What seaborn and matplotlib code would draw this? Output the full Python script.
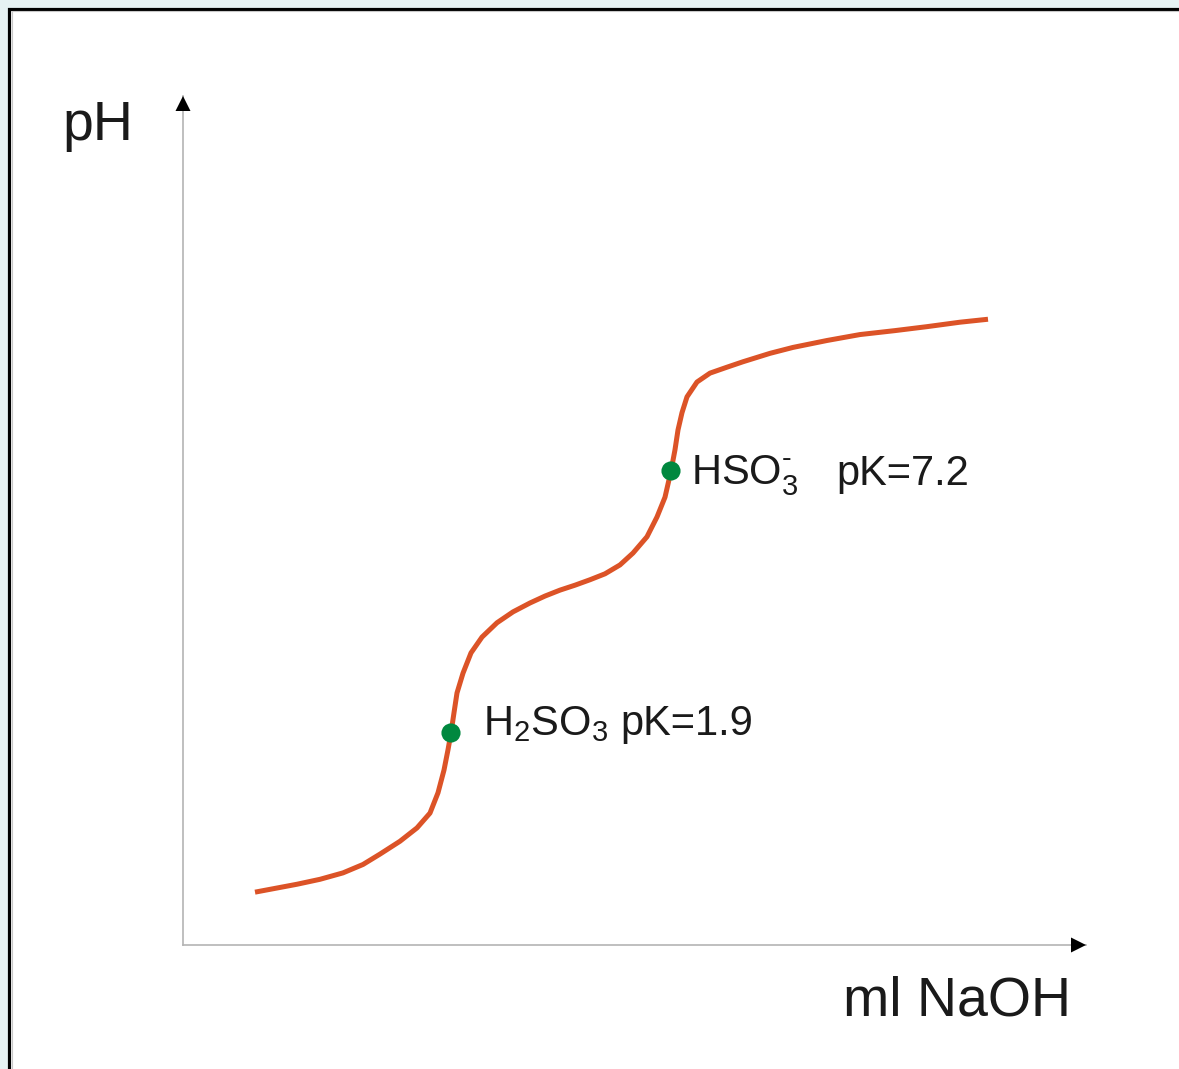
import matplotlib
matplotlib.use("Agg")
import matplotlib.pyplot as plt
import matplotlib.patches as mpatches
import pandas as pd
import seaborn as sns

# Titration curve of sulfurous acid with NaOH (volume in ml, pH)
volume_ml = [7.2, 9.3, 11.4, 13.7, 16.0, 18.0, 19.7, 21.7, 23.4, 24.7, 25.5,
             26.1, 26.5, 26.8, 27.1, 27.4, 28.0, 28.8, 29.9, 31.4, 33.0, 34.7,
             36.2, 37.7, 39.2, 40.7, 42.2, 43.7, 45.0, 46.4, 47.4, 48.2, 48.8,
             49.2, 49.5, 49.9, 50.4, 51.4, 52.7, 54.4, 56.0, 58.7, 61.0, 64.4,
             67.7, 71.2, 74.4, 77.7, 80.5]
ph_values = [-1.32, -1.24, -1.16, -1.06, -0.93, -0.76, -0.55, -0.29, -0.02, 0.28, 0.69,
             1.15, 1.56, 1.90, 2.31, 2.71, 3.11, 3.52, 3.84, 4.13, 4.35, 4.53,
             4.67, 4.79, 4.89, 5.00, 5.12, 5.30, 5.54, 5.87, 6.27, 6.67, 7.20,
             7.63, 8.03, 8.38, 8.70, 9.00, 9.18, 9.30, 9.41, 9.58, 9.70, 9.84,
             9.96, 10.04, 10.12, 10.21, 10.27]

# Half-equivalence points
pk_volume = [26.8, 48.8]
pk_values = [1.9, 7.2]
pk_species = [r"$\mathregular{H_2SO_3}$", "$\\mathregular{HSO_3^{\u2010}}$"]

x_label = "ml NaOH"
y_label = "pH"

sns.set_theme(style="white")
plt.rcParams["font.family"] = ["Liberation Sans", "DejaVu Sans"]
plt.rcParams["mathtext.fontset"] = "custom"
plt.rcParams["mathtext.rm"] = "Liberation Sans"
plt.rcParams["mathtext.it"] = "Liberation Sans"

W, H = 1179, 1069
fig = plt.figure(figsize=(W / 100, H / 100), dpi=100)
fig.patch.set_facecolor("#e6f2f3")


def fx(px):
    return px / W


def fy(py):
    return 1 - py / H


# white panel with black frame
panel = mpatches.Rectangle((fx(9.5), -0.05), 1.1, fy(8.5) + 0.05,
                           transform=fig.transFigure, facecolor="white",
                           edgecolor="black", linewidth=2.3, zorder=-10)
fig.patches.append(panel)
inner = mpatches.Rectangle((fx(11.5), -0.05), 1.1, fy(10.5) + 0.05,
                           transform=fig.transFigure, facecolor="none",
                           edgecolor="#c8c8c8", linewidth=0.8, zorder=-9)
fig.patches.append(inner)

x0, x1, y0, y1 = 183, 1086, 945, 96
ax = fig.add_axes([fx(x0), fy(y0), (x1 - x0) / W, (y0 - y1) / H])
ax.set_facecolor("none")
ax.set_zorder(5)

curve = pd.DataFrame({"ml": volume_ml, "pH": ph_values})
sns.lineplot(data=curve, x="ml", y="pH", sort=False, color="#dc5327",
             linewidth=3.6, ax=ax, zorder=3, solid_joinstyle="round",
             solid_capstyle="butt")
points = pd.DataFrame({"ml": pk_volume, "pH": pk_values})
sns.scatterplot(data=points, x="ml", y="pH", color="#00883f", s=190,
                edgecolor="none", ax=ax, zorder=4)
ax.set_xlim(0, 90.3)
ax.set_ylim(-2.389, 14.786)

# labels next to the points
label_size = 30
ax.annotate(pk_species[0], (pk_volume[0], pk_values[0]), xytext=(32, -2),
            textcoords="offset pixels", fontsize=label_size, va="baseline",
            color="#1a1a1a")
ax.annotate(f"pK={pk_values[0]}", (pk_volume[0], pk_values[0]), xytext=(169, -2),
            textcoords="offset pixels", fontsize=label_size, va="baseline",
            color="#1a1a1a")
ax.annotate(pk_species[1], (pk_volume[1], pk_values[1]), xytext=(20, -14),
            textcoords="offset pixels", fontsize=label_size, va="baseline",
            color="#1a1a1a")
ax.annotate(f"pK={pk_values[1]}", (pk_volume[1], pk_values[1]), xytext=(165, -14),
            textcoords="offset pixels", fontsize=label_size, va="baseline",
            color="#1a1a1a")

# axes drawn as gray lines with black arrow heads
for side in ["top", "right"]:
    ax.spines[side].set_visible(False)
for side in ["left", "bottom"]:
    ax.spines[side].set_color("#b4b4b4")
    ax.spines[side].set_linewidth(1.2)
ax.set_xticks([])
ax.set_yticks([])
ax.set_xlabel("")
ax.set_ylabel("")

head_len, head_w = 15, 15
x_head = mpatches.Polygon([(fx(x1), fy(y0)),
                           (fx(x1 - head_len), fy(y0 - head_w / 2)),
                           (fx(x1 - head_len), fy(y0 + head_w / 2))],
                          closed=True, transform=fig.transFigure,
                          facecolor="black", edgecolor="none", zorder=10)
y_head = mpatches.Polygon([(fx(x0), fy(y1)),
                           (fx(x0 - head_w / 2), fy(y1 + head_len)),
                           (fx(x0 + head_w / 2), fy(y1 + head_len))],
                          closed=True, transform=fig.transFigure,
                          facecolor="black", edgecolor="none", zorder=10)
fig.patches.extend([x_head, y_head])

fig.text(fx(62), fy(140), y_label, fontsize=40, va="baseline", ha="left",
         color="#1a1a1a")
fig.text(fx(1071), fy(1016), x_label, fontsize=40, va="baseline", ha="right",
         color="#1a1a1a")

fig.savefig("out.png", dpi=100)
